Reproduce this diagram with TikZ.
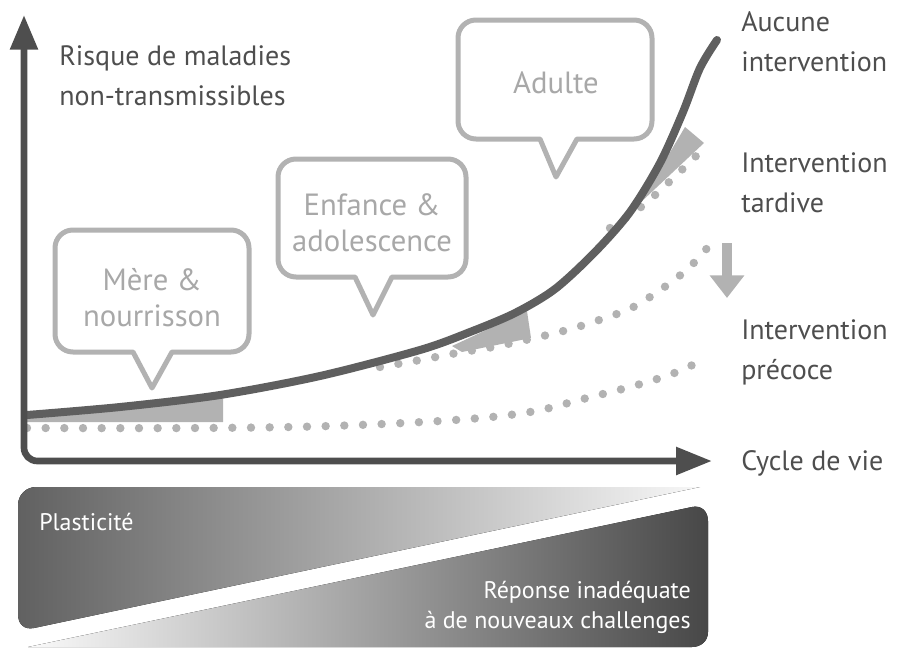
\documentclass[tikz,border=0pt]{standalone}
\usepackage{fontspec}
\setmainfont{PT Sans}
\usetikzlibrary{arrows.meta}
\definecolor{cDark}{RGB}{78,78,78}
\definecolor{cCurve}{RGB}{95,95,95}
\definecolor{cLight}{RGB}{178,178,178}
\definecolor{cBubbleTxt}{RGB}{168,168,168}

\begin{document}
\begin{tikzpicture}[x=0.75pt,y=0.75pt,yscale=-1,xscale=1,
  bubble/.style={draw=cLight, line width=3.75pt, fill=white, line join=round},
  dotline/.style={cLight, line width=6.3pt, line cap=round, dash pattern=on 0pt off 14pt},
  lbl/.style={anchor=west, inner sep=0.75pt, align=left, text=cDark, font=\fontsize{21}{30}\selectfont},
  btxt/.style={inner sep=0.75pt, align=center, text=cBubbleTxt, font=\fontsize{23}{27}\selectfont},
  wtxt/.style={inner sep=0.75pt, text=white, font=\fontsize{18}{22.5}\selectfont}]
\useasboundingbox (0,0) rectangle (900,650);

%Shape: Triangle [plasticity]
\fill[left color=black!62, right color=black!3] (700,487) -- (36,487) .. controls (26,487) and (18,495) .. (18,505) -- (18,614) .. controls (18,624) and (24,630) .. (34,628) -- cycle ;
%Shape: Triangle [response]
\fill[left color=black!2, right color=black!72] (28,647) -- (692,507) .. controls (701,505) and (708,511) .. (708,521) -- (708,632) .. controls (708,641) and (701,647) .. (692,647) -- cycle ;

%Shape: Wedges
\fill[cLight] (27,415) -- (223,396) -- (223,422) -- (27,422) -- cycle ;
\fill[cLight] (452,346) -- (527,311) -- (531,338) -- (462,352) -- cycle ;
\fill[cLight] (640,203) -- (685,127) -- (704,143) -- cycle ;

%Dotted Lines
\draw[dotline] plot[smooth, tension=0.6] coordinates {(27,428) (200,428) (330,426) (455,420) (530,412) (583,399) (637,385) (677,372) (708,357)} ;
\draw[dotline] plot[smooth, tension=0.6] coordinates {(380,367) (420,360) (457,353) (493,347) (530,339) (567,330) (602,319) (637,305) (683,273) (708,247)} ;
\draw[dotline] plot[smooth, tension=0.6] coordinates {(610,228) (641,207) (668,183) (695,157) (708,144)} ;

%Curve Lines [no intervention]
\draw[cCurve, line width=6pt, line cap=round] plot[smooth, tension=0.5] coordinates {(27,415) (120,407) (220,395) (320,376) (420,350) (470,332) (515,313) (555,289) (595,252) (630,212) (660,163) (683,112) (700,68) (717,40)} ;

%Axes
\draw[cDark, line width=5pt, rounded corners=10pt, {Triangle[length=26pt,width=20pt]}-{Triangle[length=27pt,width=20pt]}] (24,15) -- (24,461) -- (712,461) ;

%Down Arrow
\draw[cLight, line width=7.5pt, -{Triangle[length=17pt,width=25pt]}] (727,243) -- (727,298) ;

%Shape: Rectangle Callout [mother]
\draw[bubble] (73,230) -- (231,230) .. controls (241,230) and (249,238) .. (249,248) -- (249,334) .. controls (249,344) and (241,352) .. (231,352) -- (172,352) -- (152,388) -- (133,352) -- (73,352) .. controls (63,352) and (55,344) .. (55,334) -- (55,248) .. controls (55,238) and (63,230) .. (73,230) -- cycle ;
%Shape: Rectangle Callout [child]
\draw[bubble] (296,159) -- (448,159) .. controls (458,159) and (466,167) .. (466,177) -- (466,259) .. controls (466,269) and (458,277) .. (448,277) -- (392,277) -- (373,315) -- (355,277) -- (296,277) .. controls (286,277) and (278,269) .. (278,259) -- (278,177) .. controls (278,167) and (286,159) .. (296,159) -- cycle ;
%Shape: Rectangle Callout [adult]
\draw[bubble] (476,20) -- (634,20) .. controls (644,20) and (652,28) .. (652,38) -- (652,121) .. controls (652,131) and (644,139) .. (634,139) -- (577,139) -- (556,177) -- (540,139) -- (476,139) .. controls (466,139) and (458,131) .. (458,121) -- (458,38) .. controls (458,28) and (466,20) .. (476,20) -- cycle ;

% Text Node
\draw (152,298) node (mere) [btxt] {Mère \&\\nourrisson} ;
% Text Node
\draw (372,223) node (enfance) [btxt] {Enfance \&\\adolescence} ;
% Text Node
\draw (556,83) node (adulte) [btxt] {Adulte} ;
% Text Node
\draw (58,76) node (risque) [lbl] {Risque de maladies\\non-transmissibles} ;
% Text Node
\draw (740,42) node (aucune) [lbl] {Aucune\\intervention} ;
% Text Node
\draw (740,183) node (tardive) [lbl] {Intervention\\tardive} ;
% Text Node
\draw (740,352) node (precoce) [lbl] {Intervention\\précoce} ;
% Text Node
\draw (740,463) node (cycle) [lbl] {Cycle de vie} ;
% Text Node
\draw (38,522) node (plast) [wtxt, anchor=west] {Plasticité} ;
% Text Node
\draw (692,607) node (reponse) [wtxt, anchor=east, align=right] {Réponse inadéquate\\à de nouveaux challenges} ;

\end{tikzpicture}
\end{document}
